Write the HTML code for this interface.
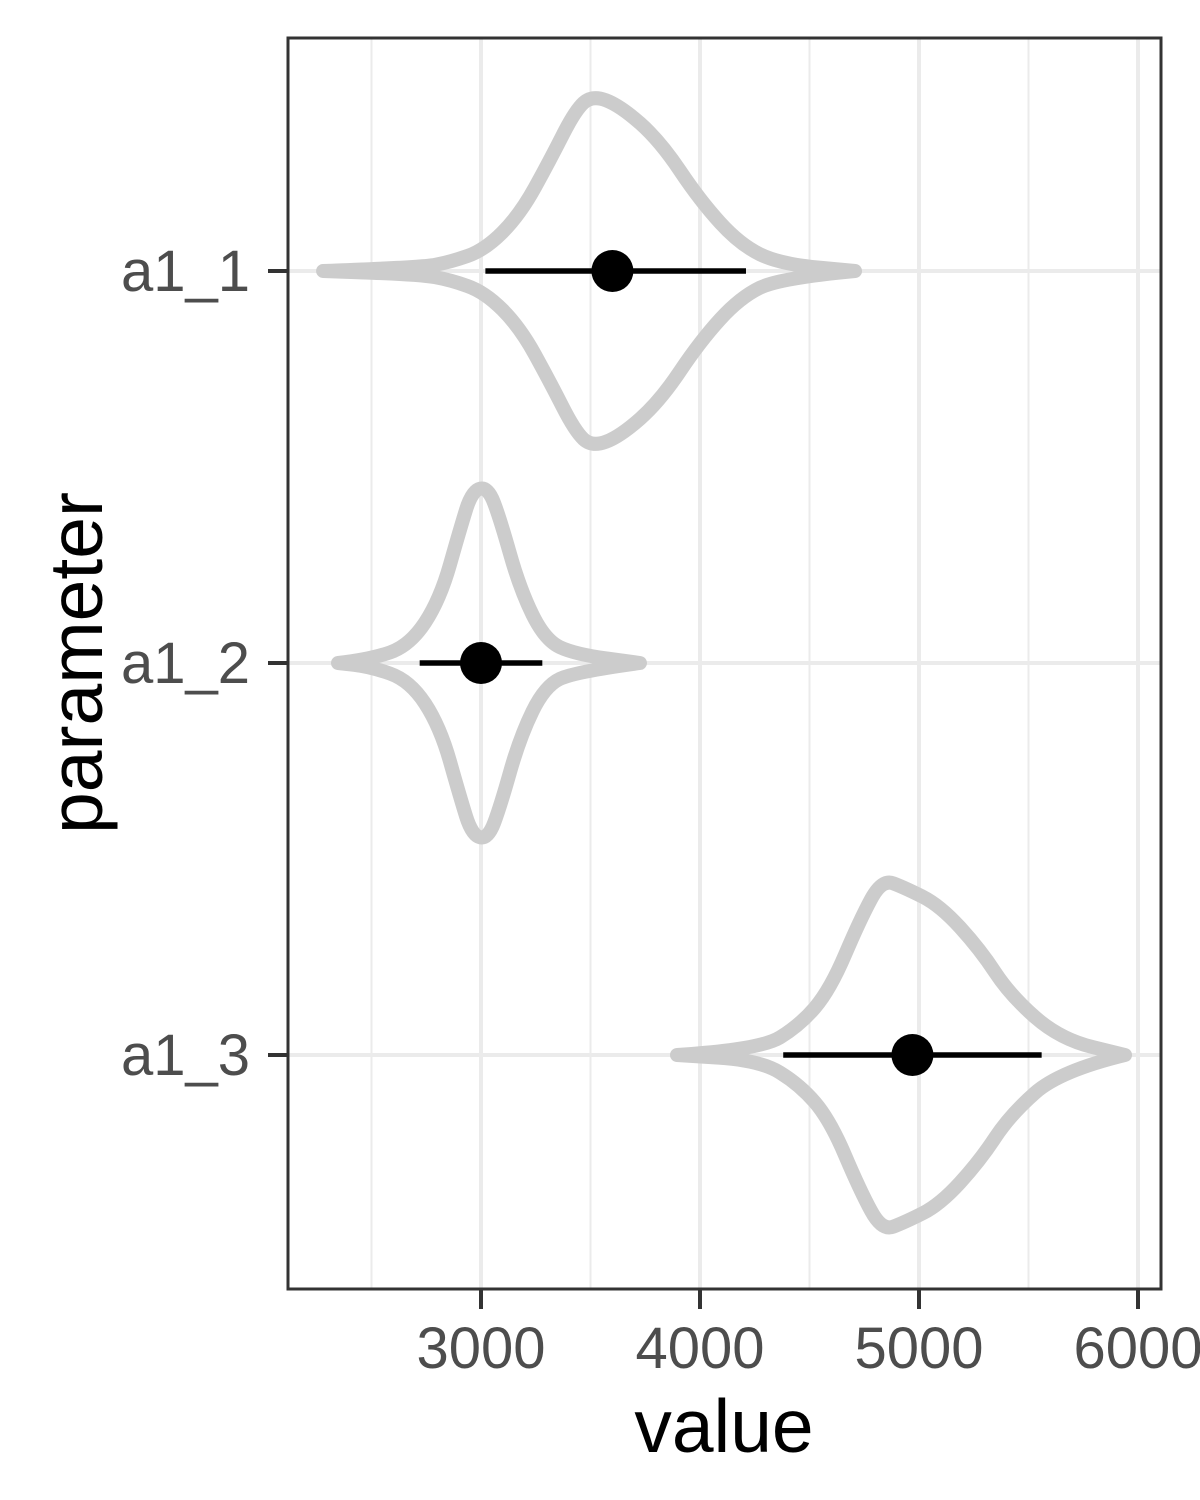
<!DOCTYPE html>
<html><head><meta charset="utf-8"><style>
html,body{margin:0;padding:0;background:#fff;}
svg{display:block;font-family:"Liberation Sans",Arial,sans-serif;}
</style></head><body>
<svg id="chart" width="1200" height="1500" viewBox="0 0 1200 1500"></svg>
<script>
const categories = ["a1_1","a1_2","a1_3"];
const xTicks = [3000,4000,5000,6000];
const xMinor = [2500,3500,4500,5500];
const v1x = [2279,2721,2858,3018,3178,3315,3429,3507,3635,3817,4000,4183,4365,4708];
const v1w = [0,0.02,0.05,0.12,0.32,0.63,0.91,1.0,0.94,0.74,0.40,0.15,0.04,0];
const v2x = [2347,2493,2676,2813,2904,2959,3032,3087,3178,3292,3429,3726];
const v2w = [0,0.02,0.10,0.36,0.76,0.98,1.0,0.82,0.42,0.13,0.05,0];
const v3x = [3895,4274,4457,4594,4731,4831,4936,5096,5279,5416,5644,5941];
const v3w = [0,0.03,0.17,0.37,0.77,1.0,0.95,0.85,0.60,0.34,0.09,0];
const violinX = [v1x,v2x,v3x];
const violinW = [v1w,v2w,v3w];
const pointVals = [3600,3000,4970];
const lowerVals = [3020,2720,4380];
const upperVals = [4210,3280,5560];

const NS="http://www.w3.org/2000/svg";
const svg=document.getElementById('chart');
const L=288,R=1161,T=38,B=1289;
const xs=v=>481+(v-3000)*0.219;
const ys=i=>271+i*392;
const maxHalf=176;
function mk(tag,attrs,parent){const e=document.createElementNS(NS,tag);for(const k in attrs)e.setAttribute(k,attrs[k]);(parent||svg).appendChild(e);return e;}

mk('rect',{x:L,y:T,width:R-L,height:B-T,fill:'#fff'});
xMinor.forEach(v=>{const g=mk('line',{x1:xs(v),x2:xs(v),y1:T,y2:B,stroke:'#ebebeb','stroke-width':2});

});
xTicks.forEach(v=>{const g=mk('line',{x1:xs(v),x2:xs(v),y1:T,y2:B,stroke:'#ebebeb','stroke-width':4});

});
categories.forEach((c,i)=>{const g=mk('line',{x1:L,x2:R,y1:ys(i),y2:ys(i),stroke:'#ebebeb','stroke-width':4});

});

function smooth(pts){let d=`M${pts[0][0]},${pts[0][1]}`;
for(let i=1;i<pts.length-1;i++){const mx=(pts[i][0]+pts[i+1][0])/2,my=(pts[i][1]+pts[i+1][1])/2;d+=` Q${pts[i][0]},${pts[i][1]} ${mx},${my}`;}
d+=` L${pts[pts.length-1][0]},${pts[pts.length-1][1]}`;return d;}

categories.forEach((c,i)=>{
  const xsArr=violinX[i],ws=violinW[i],cy=ys(i);
  const top=xsArr.map((v,j)=>[xs(v),cy-ws[j]*maxHalf]);
  const bot=xsArr.map((v,j)=>[xs(v),cy+ws[j]*maxHalf]).reverse();
  const d=smooth(top)+' '+smooth(bot).replace(/^M/,'L')+' Z';
  const p=mk('path',{d:d,fill:'none',stroke:'#cccccc','stroke-width':14,'stroke-linejoin':'round','stroke-linecap':'round'});
  
  
  const l=mk('line',{x1:xs(lowerVals[i]),x2:xs(upperVals[i]),y1:cy,y2:cy,stroke:'#000','stroke-width':5.5});
  
  
  const pt=mk('circle',{cx:xs(pointVals[i]),cy:cy,r:21,fill:'#000'});
  
  
  const tk=mk('line',{x1:L-20,x2:L,y1:cy,y2:cy,stroke:'#333','stroke-width':4});
  
  
  const t=mk('text',{x:250,y:cy+20,'text-anchor':'end','font-size':58,fill:'#4d4d4d'});
  t.textContent=c;
  
  
});
xTicks.forEach(v=>{
  const tk=mk('line',{x1:xs(v),x2:xs(v),y1:B,y2:B+20,stroke:'#333','stroke-width':4});
  
  
  const t=mk('text',{x:xs(v),y:1368,'text-anchor':'middle','font-size':58,fill:'#4d4d4d'});
  t.textContent=v;
  
  
});
const fr=mk('rect',{x:L,y:T,width:R-L,height:B-T,fill:'none',stroke:'#333','stroke-width':3});


const xt=mk('text',{x:724,y:1452,'text-anchor':'middle','font-size':75,fill:'#000'});
xt.textContent='value';


const yt=mk('text',{x:0,y:0,'text-anchor':'middle','font-size':75,fill:'#000',transform:'translate(102,663) rotate(-90)'});
yt.textContent='parameter';


</script>
</body></html>
